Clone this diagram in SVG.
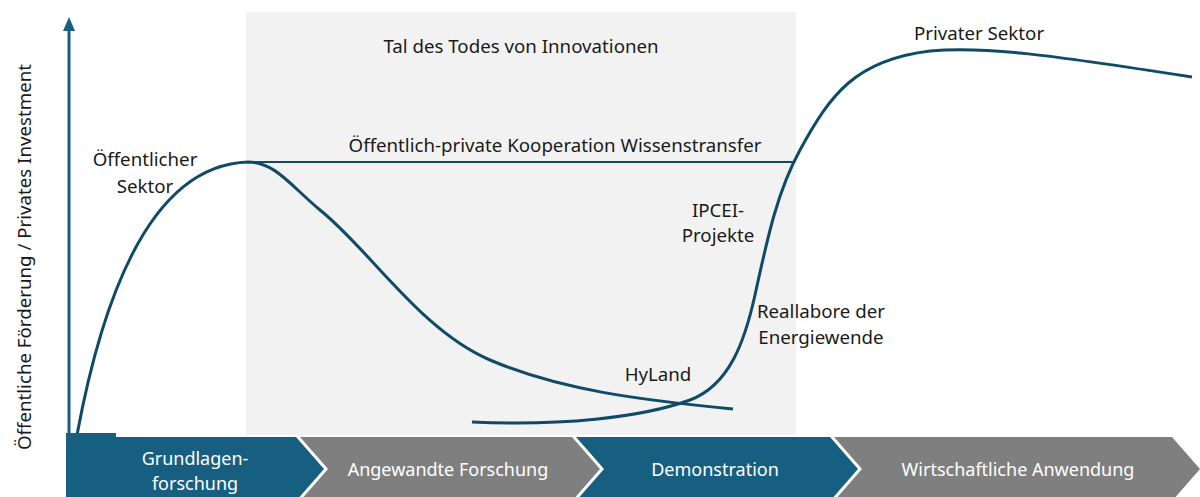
<svg xmlns="http://www.w3.org/2000/svg" width="1200" height="497" viewBox="0 0 1200 497">
<style>
.lbl{font-family:"Source Sans Pro","Noto Sans","Liberation Sans",sans-serif;font-size:18.7px;fill:#1a1a1a;}
.wl{font-family:"Source Sans Pro","Noto Sans","Liberation Sans",sans-serif;font-size:18px;fill:#ffffff;}
.curve{fill:none;stroke:#0f4b66;stroke-width:3;}
.blue{fill:#175f80;}
.grey{fill:#7f7f7f;}
</style>
<rect x="0" y="0" width="1200" height="497" fill="#ffffff"/>
<g id="valley">
<rect x="246" y="12" width="550" height="423" fill="#f2f2f2"/>
<text class="lbl" x="521" y="53" text-anchor="middle">Tal des Todes von Innovationen</text>
</g>
<g id="axis">
<line x1="69" y1="437" x2="69" y2="28" stroke="#175f80" stroke-width="3"/>
<polygon points="69,17 75,31 63,31" fill="#175f80"/>
<text class="lbl" transform="translate(31,257) rotate(-90)" text-anchor="middle">Öffentliche Förderung / Privates Investment</text>
</g>
<g id="connectors">
<path class="curve" d="M77,435 C102,300 150,165 248,162 C275,162 290,185 320,210 C370,250 420,330 490,360 C560,390 640,400 733,409"/>
<line x1="248" y1="162" x2="795" y2="162" stroke="#0f4b66" stroke-width="2"/>
<path class="curve" d="M472,422 C560,426 640,418 690,400 C730,385 745,340 755,295 C768,235 778,190 800,150 C830,95 855,60 930,51 C985,46 1050,55 1192,77"/>
</g>
<g id="labels">
<text class="lbl" x="555" y="152" text-anchor="middle">Öffentlich-private Kooperation Wissenstransfer</text>
<text class="lbl" x="145" y="166" text-anchor="middle">Öffentlicher</text>
<text class="lbl" x="145" y="193" text-anchor="middle">Sektor</text>
<text class="lbl" x="979" y="40" text-anchor="middle">Privater Sektor</text>
<text class="lbl" x="718" y="217" text-anchor="middle">IPCEI-</text>
<text class="lbl" x="718" y="242" text-anchor="middle">Projekte</text>
<text class="lbl" x="821" y="318" text-anchor="middle">Reallabore der</text>
<text class="lbl" x="821" y="344" text-anchor="middle">Energiewende</text>
<text class="lbl" x="658" y="381" text-anchor="middle">HyLand</text>
</g>
<g id="stage1">
<rect class="blue" x="66" y="433" width="50" height="6"/>
<polygon class="blue" points="66,437 296,437 324,469 296,501 66,501"/>
<text class="wl" x="195" y="465" text-anchor="middle">Grundlagen-</text>
<text class="wl" x="195" y="490" text-anchor="middle">forschung</text>
</g>
<g id="stage2">
<polygon class="grey" points="300,437 572,437 600,469 572,501 300,501 328,469"/>
<text class="wl" x="448" y="476" text-anchor="middle">Angewandte Forschung</text>
</g>
<g id="stage3">
<polygon class="blue" points="576,437 830,437 858,469 830,501 576,501 604,469"/>
<text class="wl" x="715" y="476" text-anchor="middle">Demonstration</text>
</g>
<g id="stage4">
<polygon class="grey" points="834,437 1172,437 1200,469 1172,501 834,501 862,469"/>
<text class="wl" x="1018" y="476" text-anchor="middle">Wirtschaftliche Anwendung</text>
</g>
</svg>
